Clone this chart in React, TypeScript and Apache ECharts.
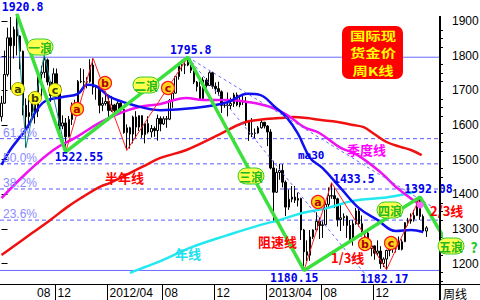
import { useEffect, useRef } from 'react';
import * as echarts from 'echarts';

// Price window of the right-hand axis
const Y_MIN = 1141;
const Y_MAX = 1961;
// Weekly slots on the time axis: 140 candles plus room on the right
const SLOTS = 144;

const majorTicks = [1200, 1300, 1400, 1500, 1600, 1700, 1800, 1900];
const minorTickStep = 25;

// Weekly gold candles starting with the week of 2011-08-01: [open, close, low, high]
const weeklyOHLC: number[][] = [
  [1624, 1663, 1610, 1684], [1663, 1746, 1661, 1815], [1746, 1852, 1740, 1881], [1852, 1829, 1702, 1912],
  [1829, 1876, 1792, 1884], [1876, 1857, 1801, 1920.8], [1857, 1813, 1761, 1859], [1813, 1657, 1628, 1815],
  [1657, 1624, 1535, 1677], [1624, 1636, 1592, 1685], [1636, 1683, 1624, 1695], [1683, 1640, 1604, 1685],
  [1640, 1747, 1623, 1760], [1747, 1752, 1676, 1771], [1752, 1788, 1736, 1803], [1788, 1724, 1715, 1792],
  [1724, 1685, 1667, 1726], [1685, 1748, 1681, 1764], [1748, 1713, 1707, 1763], [1713, 1597, 1564, 1716],
  [1597, 1606, 1588, 1628], [1606, 1566, 1522.55, 1620],
  // 2012
  [1566, 1616, 1565, 1626], [1616, 1631, 1600, 1665], [1631, 1665, 1627, 1673], [1665, 1726, 1653, 1730],
  [1726, 1725, 1721, 1764], [1725, 1724, 1705, 1761], [1724, 1725, 1706, 1738], [1725, 1773, 1722, 1790],
  [1773, 1709, 1688, 1792], [1709, 1711, 1673, 1715], [1711, 1657, 1634, 1714], [1657, 1662, 1640, 1680],
  [1662, 1668, 1656, 1697], [1668, 1642, 1612, 1680], [1642, 1658, 1638, 1684], [1658, 1642, 1627, 1661],
  [1642, 1663, 1636, 1669], [1663, 1645, 1632, 1666], [1645, 1578, 1575, 1648], [1578, 1592, 1527, 1602],
  [1592, 1574, 1532, 1595], [1574, 1623, 1547, 1627], [1623, 1594, 1562, 1640], [1594, 1627, 1583, 1628],
  [1627, 1572, 1563, 1628], [1572, 1604, 1547, 1605], [1604, 1580, 1575, 1625], [1580, 1590, 1564, 1600],
  [1590, 1584, 1566, 1596], [1584, 1619, 1555, 1630], [1619, 1603, 1582, 1625], [1603, 1618, 1600, 1625],
  [1618, 1617, 1592, 1626], [1617, 1671, 1614, 1675], [1671, 1692, 1650, 1693], [1692, 1740, 1691, 1741],
  [1740, 1771, 1731, 1778], [1771, 1774, 1755, 1788], [1774, 1773, 1747, 1787], [1773, 1781, 1770, 1795.8],
  [1781, 1758, 1750, 1785], [1758, 1724, 1718, 1760], [1724, 1711, 1697, 1727], [1711, 1676, 1672, 1726],
  [1676, 1730, 1672, 1738], [1730, 1714, 1708, 1736], [1714, 1751, 1713, 1755], [1751, 1712, 1705, 1754],
  [1712, 1705, 1690, 1723], [1705, 1696, 1685, 1725], [1696, 1657, 1635, 1700], [1657, 1657, 1650, 1667],
  // 2013
  [1657, 1656, 1625, 1694], [1656, 1662, 1645, 1679], [1662, 1687, 1652, 1693], [1687, 1658, 1654, 1694],
  [1658, 1666, 1651, 1685], [1666, 1667, 1658, 1684], [1667, 1609, 1598, 1681], [1609, 1573, 1554, 1614],
  [1573, 1576, 1565, 1620], [1576, 1577, 1562, 1590], [1577, 1592, 1575, 1597], [1592, 1608, 1590, 1616],
  [1608, 1597, 1590, 1609], [1597, 1580, 1539, 1600], [1580, 1476, 1472, 1588], [1476, 1406, 1321, 1497],
  [1406, 1463, 1404, 1475], [1463, 1469, 1442, 1488], [1469, 1435, 1420, 1487], [1435, 1363, 1337, 1440],
  [1363, 1386, 1355, 1414], [1386, 1392, 1377, 1424], [1392, 1383, 1375, 1424], [1383, 1388, 1365, 1405],
  [1388, 1297, 1268, 1390], [1297, 1234, 1180.15, 1300], [1234, 1224, 1207, 1267], [1224, 1277, 1208, 1297],
  [1277, 1297, 1271, 1299], [1297, 1322, 1293, 1348], [1322, 1310, 1271, 1333], [1310, 1312, 1274, 1324],
  [1312, 1371, 1310, 1378], [1371, 1396, 1363, 1420], [1395, 1396, 1387, 1433.5], [1396, 1387, 1360, 1418],
  [1387, 1327, 1307, 1390], [1327, 1332, 1294, 1370], [1332, 1336, 1309, 1345], [1336, 1310, 1274, 1339],
  [1310, 1271, 1264, 1326], [1271, 1315, 1252, 1325], [1315, 1352, 1312, 1361], [1352, 1315, 1307, 1362],
  [1315, 1286, 1278, 1339], [1286, 1288, 1262, 1293], [1288, 1244, 1240, 1295], [1244, 1251, 1221, 1264],
  [1251, 1230, 1211, 1252], [1230, 1236, 1223, 1267], [1236, 1200, 1185, 1250], [1200, 1213, 1190, 1218],
  // 2014
  [1213, 1238, 1182.17, 1240], [1238, 1247, 1221, 1256], [1247, 1254, 1231, 1261], [1254, 1264, 1232, 1271],
  [1264, 1241, 1239, 1278], [1241, 1263, 1238, 1270], [1263, 1318, 1262, 1320], [1318, 1323, 1309, 1332],
  [1323, 1328, 1315, 1345], [1328, 1339, 1321, 1355], [1339, 1381, 1337, 1386], [1381, 1336, 1326, 1392.08],
  [1336, 1294, 1288, 1342], [1294, 1303, 1277, 1308],
];

// First week of each month marked on the time axis
const monthBreakWeeks = [18, 35, 53, 70, 87, 105, 122];
const monthBreakLabels = ['12', '2012/04', '08', '12', '2013/04', '08', '12'];

// Turning points that get a price label
const pivotWeeks = [5, 21, 61, 99, 108, 126, 137];
const pivotSides = ['high', 'low', 'high', 'low', 'high', 'low', 'high'];

// Main wave count (weeks of the turning points) and the projected fifth-wave leg
const mainWaveWeeks = [5, 21, 61, 99, 137];
const mainWaveSides = ['high', 'low', 'high', 'low', 'high'];
const wave5Target = [156.6, 1095];

// a-b-c sub-legs: [week, side]
const wave1Legs: [number, string][] = [[5, 'high'], [8, 'low'], [14, 'high'], [21, 'low']];
const wave2Legs: [number, string][] = [[21, 'low'], [30, 'high'], [41, 'low'], [61, 'high']];
const wave4Legs: [number, string][] = [[99, 'low'], [108, 'high'], [126, 'low'], [137, 'high']];

const fibRatios = [0.236, 0.382, 0.5, 0.618];
const speedRatios = [1 / 3, 2 / 3];

// Moving averages: [week, price]
const ma30: number[][] = [
  [0, 1485], [3, 1530], [8, 1588], [13.5, 1664], [20, 1681], [25, 1690], [28, 1716], [31, 1712],
  [35.5, 1681], [43, 1658], [52, 1643], [63, 1649], [74, 1666], [80.5, 1690], [84.5, 1687], [89.5, 1652],
  [93.5, 1620], [97, 1575], [101, 1505], [105, 1476], [111, 1418], [117, 1360], [123, 1326], [129, 1294],
  [134, 1297], [138, 1291],
];
const quarterLine: number[][] = [
  [0, 1389], [8, 1460], [17, 1528], [24.5, 1565], [32, 1606], [39, 1635], [45, 1652], [52, 1661],
  [60.5, 1678], [66, 1672], [74, 1672], [81, 1666], [88, 1652], [93.5, 1629], [99, 1594], [104, 1577],
  [111, 1534], [116, 1516], [124, 1464], [129.5, 1418], [137, 1369],
];
const halfYearLine: number[][] = [
  [0, 1225], [10, 1288], [16, 1326], [21.5, 1363], [26.5, 1392], [32, 1421], [35.5, 1433], [46, 1479],
  [52, 1505], [60.5, 1528], [71.5, 1574], [79, 1606], [84.5, 1615], [91, 1620], [95.5, 1623], [100, 1620],
  [104, 1615], [110, 1609], [115, 1600], [118.5, 1594], [121.5, 1577], [126, 1551], [130.5, 1537],
  [134, 1528], [137.5, 1513],
];
const yearLine: number[][] = [
  [42, 1173], [47, 1190], [52, 1207], [62.5, 1248], [74, 1282], [84.5, 1311], [91, 1326], [98.5, 1346],
  [106.5, 1360], [115, 1381], [124, 1389], [130.5, 1398], [135.5, 1407],
];

const priceAt = (week: number, side: string) =>
  side === 'high' ? weeklyOHLC[week][3] : weeklyOHLC[week][2];

const weekLabels = Array.from({ length: SLOTS }, (_, i) => {
  const d = new Date(Date.UTC(2011, 7, 1) + i * 7 * 86400000);
  return d.toISOString().slice(0, 10);
});

const waveTop = priceAt(61, 'high');
const waveBottom = priceAt(99, 'low');
const fibLevels = fibRatios.map((r) => waveBottom + r * (waveTop - waveBottom));

const CJK = "'Noto Sans CJK SC', sans-serif";
const MONO = "'DejaVu Sans Mono', monospace";
const SANS = "'Liberation Sans', Arial, sans-serif";

function lineSeries(data: number[][], color: string, width: number, extra: any = {}) {
  return {
    type: 'line',
    xAxisIndex: 1,
    yAxisIndex: 0,
    data,
    symbol: 'none',
    silent: true,
    lineStyle: { color, width, ...(extra.lineStyle || {}) },
    z: extra.z ?? 3,
    smooth: extra.smooth ?? false,
    clip: extra.clip ?? true,
  };
}

function buildOption(): any {
  const minorTicks: number[] = [];
  for (let v = Math.ceil(Y_MIN / minorTickStep) * minorTickStep; v <= 1900; v += minorTickStep) {
    if (v % 100 !== 0) minorTicks.push(v);
  }
  const legs = (legsDef: [number, string][]) => legsDef.map(([w, s]) => [w, priceAt(w, s)]);
  const speedSpan = 99 - 61;
  const speedLines = speedRatios.map((r) => {
    const slope = (r * (waveTop - waveBottom)) / speedSpan;
    return [[61, waveTop], [SLOTS - 0.5, waveTop - slope * (SLOTS - 0.5 - 61)]];
  });

  const series: any[] = [];
  fibLevels.forEach((lvl) =>
    series.push(lineSeries([[-0.5, lvl], [SLOTS - 0.5, lvl]], '#5a5aff', 1, { lineStyle: { type: [4, 3] }, z: 1 }))
  );
  [waveTop, waveBottom].forEach((lvl) =>
    series.push(lineSeries([[-0.5, lvl], [SLOTS - 0.5, lvl]], '#6a6aff', 1, { z: 1 }))
  );
  series.push({
    type: 'candlestick',
    xAxisIndex: 0,
    yAxisIndex: 0,
    data: weeklyOHLC,
    barWidth: 2,
    silent: true,
    z: 2,
    itemStyle: { color: '#ffffff', color0: '#000000', borderColor: '#000000', borderColor0: '#000000', borderWidth: 1 },
  });
  series.push(lineSeries(yearLine, '#22e8f0', 2.5, { smooth: 0.4 }));
  series.push(lineSeries(halfYearLine, '#f01010', 2.5, { smooth: 0.4 }));
  series.push(lineSeries(quarterLine, '#f010f0', 2.5, { smooth: 0.4 }));
  series.push(lineSeries(ma30, '#1010f0', 2.5, { smooth: 0.4 }));
  speedLines.forEach((pts) =>
    series.push(lineSeries(pts, '#6a6aff', 1, { lineStyle: { type: [3, 3] }, z: 4 }))
  );
  series.push(lineSeries(legs(wave1Legs), '#1a8a8a', 1, { z: 4 }));
  series.push(lineSeries(legs(wave2Legs), '#ff2020', 1, { z: 4 }));
  series.push(lineSeries(legs(wave4Legs), '#ff2020', 1, { z: 4 }));
  const mainWave = mainWaveWeeks.map((w, k) => [w, priceAt(w, mainWaveSides[k])]);
  mainWave.push(wave5Target);
  series.push(lineSeries(mainWave, '#3ce03c', 3.5, { z: 5, clip: false }));

  return {
    animation: false,
    backgroundColor: '#ffffff',
    grid: { left: 0, top: 0, right: 40, bottom: 16, containLabel: false, outerBoundsMode: 'none' },
    xAxis: [
      { type: 'category', data: weekLabels, boundaryGap: true, show: false },
      { type: 'value', min: -0.5, max: SLOTS - 0.5, show: false },
    ],
    yAxis: [
      {
        type: 'value',
        position: 'right',
        min: Y_MIN,
        max: Y_MAX,
        axisLine: { show: false },
        splitLine: { show: false },
        axisTick: { show: true, inside: false, length: 6, customValues: majorTicks, lineStyle: { color: '#000', width: 1 } },
        axisLabel: {
          show: true,
          customValues: majorTicks,
          formatter: (v: number) => String(v),
          margin: 12,
          color: '#000',
          fontSize: 12,
          fontFamily: SANS,
        },
      },
      {
        type: 'value',
        position: 'right',
        min: Y_MIN,
        max: Y_MAX,
        offset: 0,
        axisLine: { show: false },
        splitLine: { show: false },
        axisTick: { show: true, inside: false, length: 3, customValues: minorTicks, lineStyle: { color: '#000', width: 1 } },
        axisLabel: { show: false },
      },
    ],
    series,
  };
}

// Label layout (pixel offsets and positions)
const pivotLabelOffsets = [[-15, -13], [-11, -1], [-18, -13], [-34, 2], [1.5, -10], [-26.5, 3], [-16, -14]];
const fibLabelX = 3;
const wavePills = [
  { text: '一浪', x: 40, y: 47 },
  { text: '二浪', x: 146, y: 85 },
  { text: '三浪', x: 251, y: 176 },
  { text: '四浪', x: 390, y: 210 },
  { text: '五浪', x: 451, y: 246 },
];
const legMarkersWave1 = [
  { t: 'a', x: 18, y: 89 },
  { t: 'b', x: 35, y: 98 },
  { t: 'c', x: 55, y: 90 },
];
const legMarkersOther = [
  { t: 'a', x: 77, y: 109 },
  { t: 'b', x: 105, y: 83 },
  { t: 'c', x: 168, y: 88 },
  { t: 'a', x: 318, y: 202 },
  { t: 'b', x: 365, y: 244 },
  { t: 'c', x: 391, y: 243 },
];
const lineNames = [
  { text: '半年线', x: 105, y: 171, color: '#ff0000' },
  { text: '阻速线', x: 258, y: 235, color: '#ff0000' },
  { text: '1/3线', x: 331, y: 251, color: '#ff0000' },
  { text: '2/3线', x: 430, y: 204, color: '#ff0000' },
  { text: '季度线', x: 347, y: 143, color: '#ff00ff' },
  { text: '年线', x: 175, y: 247, color: '#20e0f0' },
];
const titleLines = ['国际现', '货金价', '周K线'];

function text(x: number, y: number, str: string, font: string, fill: string, align = 'left', valign = 'top', z = 20): any {
  return {
    type: 'text',
    x,
    y,
    z,
    silent: true,
    style: { text: str, font, fill, align, verticalAlign: valign, textAlign: align, textVerticalAlign: valign },
  };
}

function buildGraphic(chart: any): any[] {
  const px = (w: number, p: number) => chart.convertToPixel({ xAxisIndex: 1, yAxisIndex: 0 }, [w, p]) as number[];
  const g: any[] = [];
  const right = px(SLOTS - 0.5, Y_MIN)[0];
  const bottom = px(0, Y_MIN)[1];

  // axes frame
  g.push({ type: 'line', z: 30, silent: true, shape: { x1: right, y1: 16, x2: right, y2: 300 }, style: { stroke: '#000', lineWidth: 2 } });
  g.push({ type: 'line', z: 30, silent: true, shape: { x1: 0, y1: bottom + 0.5, x2: 480, y2: bottom + 0.5 }, style: { stroke: '#000', lineWidth: 1 } });

  // month breaks on the time axis
  const axisFont = `12px ${SANS}`;
  g.push(text(37, bottom + 9, '08', axisFont, '#000', 'left', 'middle'));
  monthBreakWeeks.forEach((w, k) => {
    const sx = Math.round(px(w - 0.5, Y_MIN)[0]) + 0.5;
    g.push({ type: 'line', z: 30, silent: true, shape: { x1: sx, y1: bottom, x2: sx, y2: 300 }, style: { stroke: '#000', lineWidth: 1 } });
    g.push(text(sx + 2, bottom + 9, monthBreakLabels[k], axisFont, '#000', 'left', 'middle'));
  });
  g.push(text(right + 3, bottom + 9, '周线', `12px ${CJK}`, '#000', 'left', 'middle'));

  // Fibonacci retracement labels
  fibRatios.forEach((r, k) => {
    const y = px(0, fibLevels[k])[1];
    g.push(text(fibLabelX, y, `${(r * 100).toFixed(1)}%`, `12px ${SANS}`, '#8a8aff', 'left', 'bottom', 6));
  });

  // pivot prices
  pivotWeeks.forEach((w, k) => {
    const v = priceAt(w, pivotSides[k]);
    const [ax, ay] = px(w, v);
    const [dx, dy] = pivotLabelOffsets[k];
    g.push(text(ax + dx, ay + dy, String(v), `bold 11.5px ${MONO}`, '#0000ee', 'left', 'top', 25));
  });
  g.push(text(298, 150, 'ma30', `bold 11px ${MONO}`, '#0000ee', 'left', 'top', 25));

  // line names
  lineNames.forEach((n) => g.push(text(n.x, n.y, n.text, `bold 13px ${CJK}`, n.color, 'left', 'top', 25)));

  // end of the quarterly average
  const qEnd = quarterLine[quarterLine.length - 1];
  const [qx, qy] = px(qEnd[0], qEnd[1]);
  g.push({ type: 'circle', z: 22, silent: true, shape: { cx: qx, cy: qy, r: 3.5 }, style: { fill: '#ff66ff' } });

  // wave labels
  wavePills.forEach((p) => {
    g.push({
      type: 'rect', z: 40, silent: true,
      shape: { x: p.x - 13, y: p.y - 8, width: 26, height: 16, r: 8 },
      style: { fill: '#ffff4d', stroke: '#33cc33', lineWidth: 1 },
    });
    g.push(text(p.x, p.y + 0.5, p.text, `bold 12px ${CJK}`, '#22b822', 'center', 'middle', 41));
  });
  g.push(text(474, 247, '?', `bold 14px ${CJK}`, '#22c822', 'center', 'middle', 41));

  // a-b-c markers
  legMarkersWave1.forEach((m) => {
    g.push({ type: 'circle', z: 40, silent: true, shape: { cx: m.x, cy: m.y, r: 6.5 }, style: { fill: '#ffff22', stroke: '#9a9a00', lineWidth: 1 } });
    g.push(text(m.x, m.y, m.t, "bold 11px 'DejaVu Sans', sans-serif", '#3a3a00', 'center', 'middle', 41));
  });
  legMarkersOther.forEach((m) => {
    g.push({ type: 'circle', z: 40, silent: true, shape: { cx: m.x, cy: m.y, r: 6.5 }, style: { fill: '#ffd21a', stroke: '#ff1a1a', lineWidth: 1.2 } });
    g.push(text(m.x, m.y, m.t, "bold 11px 'DejaVu Sans', sans-serif", '#b00000', 'center', 'middle', 41));
  });

  // title box: three stacked lines, widened horizontally
  g.push({
    type: 'rect', z: 45, silent: true,
    shape: { x: 342, y: 26, width: 61, height: 53, r: 7 },
    style: { fill: '#ff0000' },
  });
  g.push({
    type: 'group',
    x: 373,
    y: 53,
    scaleX: 1.28,
    z: 46,
    children: titleLines.map((t, k) => text(0, (k - 1) * 17.5, t, `bold 12px ${CJK}`, '#ffff00', 'center', 'middle', 46)),
  });

  return g;
}

export default function App() {
  const ref = useRef<HTMLDivElement>(null);
  useEffect(() => {
    if (!ref.current) return;
    const chart = echarts.init(ref.current, undefined, { renderer: 'svg' });
    chart.setOption(buildOption());
    chart.setOption({ graphic: { elements: buildGraphic(chart) } });
    return () => chart.dispose();
  }, []);
  return (
    <div
      ref={ref}
      style={{ position: 'fixed', left: 0, top: 0, width: 480, height: 300, background: '#ffffff' }}
    />
  );
}
